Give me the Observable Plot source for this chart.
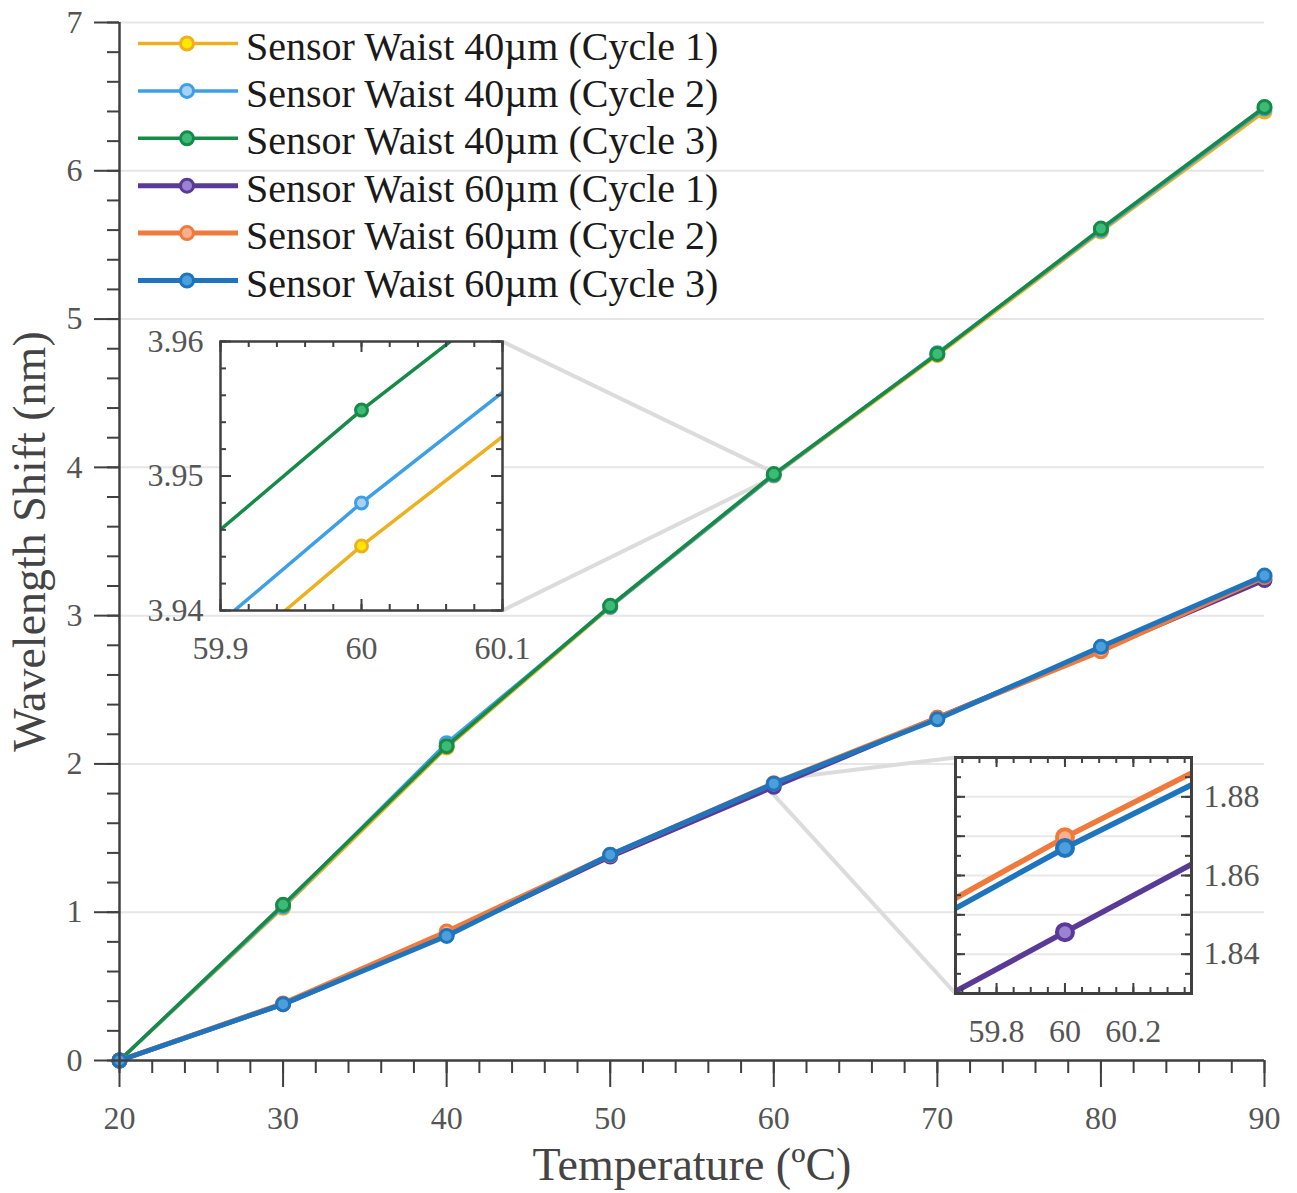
<!DOCTYPE html>
<html>
<head>
<meta charset="utf-8">
<script src="https://cdn.jsdelivr.net/npm/d3@7"></script>
<script src="https://cdn.jsdelivr.net/npm/@observablehq/plot@0.6"></script>
<style>
  body { margin: 0; background: #ffffff; }
  #wrap { position: relative; width: 1297px; height: 1193px; overflow: hidden; }
  #wrap > svg { position: absolute; }
  #wrap svg text { font-family: 'Liberation Serif', 'Times New Roman', serif !important; font-variant-numeric: normal !important; }
</style>
</head>
<body>
<div id="wrap"></div>
<script>
// ---------------- data ----------------
const temperature = [20, 30, 40, 50, 60, 70, 80, 90];
const w40c1 = [0, 1.03, 2.11, 3.057, 3.9448, 4.757, 5.59, 6.40];
const w40c2 = [0, 1.04, 2.14, 3.060, 3.9480, 4.770, 5.60, 6.42];
const w40c3 = [0, 1.05, 2.12, 3.066, 3.9549, 4.765, 5.61, 6.43];
const w60c1 = [0, 0.38, 0.85, 1.375, 1.8456, 2.311, 2.77, 3.24];
const w60c2 = [0, 0.385, 0.87, 1.386, 1.8697, 2.311, 2.76, 3.26];
const w60c3 = [0, 0.38, 0.84, 1.388, 1.8670, 2.301, 2.79, 3.27];
const seriesNames = [
  "Sensor Waist 40µm (Cycle 1)",
  "Sensor Waist 40µm (Cycle 2)",
  "Sensor Waist 40µm (Cycle 3)",
  "Sensor Waist 60µm (Cycle 1)",
  "Sensor Waist 60µm (Cycle 2)",
  "Sensor Waist 60µm (Cycle 3)"
];
const xTicks = [20, 30, 40, 50, 60, 70, 80, 90];
const yTicks = [0, 1, 2, 3, 4, 5, 6, 7];
const xTitle = "Temperature (ºC)";
const yTitle = "Wavelength Shift (nm)";
const inset1X = [59.9, 60.1];
const inset1Y = [3.94, 3.96];
const inset1XTicks = [59.9, 60, 60.1];
const inset1YTicks = [3.94, 3.95, 3.96];
const inset2X = [59.68, 60.37];
const inset2Y = [1.83, 1.89];
const inset2XTicks = [59.8, 60, 60.2];
const inset2YTicks = [1.84, 1.86, 1.88];
const inset2Grid = [1.84, 1.85, 1.86, 1.87, 1.88];

// ---------------- styles ----------------
const strokes = ["#EDB120", "#3D9FE6", "#168A47", "#5A3A97", "#F07A3C", "#1E75BE"];
const fills   = ["#FFE800", "#A9D2F2", "#3CBB76", "#9B82D2", "#F6B08C", "#4C9FDA"];
const lineW   = [3.5, 3.5, 3.5, 5, 5, 5];
const FONT = "'Liberation Serif', 'Times New Roman', serif";
const AX = "#404040";
const TICKC = "#555555";
const fmt = d => String(d);

const allSeries = [w40c1, w40c2, w40c3, w60c1, w60c2, w60c3].map((vals, i) => ({
  name: seriesNames[i],
  stroke: strokes[i],
  fill: fills[i],
  width: lineW[i],
  rows: temperature.map((t, j) => ({x: t, y: vals[j]}))
}));

// ---------------- layout ----------------
const W = 1297, H = 1193, ML = 119, MR = 33, MT = 22, MB = 133;
const box1 = {x: 220, y: 341, w: 282, h: 269};
const box2 = {x: 955, y: 757, w: 236, h: 236};

const xs = Plot.scale({x: {domain: [20, 90], range: [ML, W - MR]}});
const ys = Plot.scale({y: {domain: [0, 7], range: [H - MB, MT]}});
const connectors = [
  {x1: inset1X[1], y1: inset1Y[1], x2: xs.invert(box1.x + box1.w), y2: ys.invert(box1.y)},
  {x1: inset1X[1], y1: inset1Y[0], x2: xs.invert(box1.x + box1.w), y2: ys.invert(box1.y + box1.h)},
  {x1: inset2X[0], y1: inset2Y[1], x2: xs.invert(box2.x), y2: ys.invert(box2.y)},
  {x1: inset2X[0], y1: inset2Y[0], x2: xs.invert(box2.x), y2: ys.invert(box2.y + box2.h)}
];

const seriesMarks = [];
for (const s of allSeries) {
  seriesMarks.push(Plot.line(s.rows, {x: "x", y: "y", stroke: s.stroke, strokeWidth: s.width}));
  seriesMarks.push(Plot.dot(s.rows, {x: "x", y: "y", r: 6.5, fill: s.fill, stroke: s.stroke, strokeWidth: 3}));
}

const main = Plot.plot({
  width: W, height: H,
  marginLeft: ML, marginRight: MR, marginTop: MT, marginBottom: MB,
  x: {domain: [20, 90]},
  y: {domain: [0, 7]},
  style: {fontFamily: FONT, background: "transparent", overflow: "visible"},
  marks: [
    Plot.gridY(yTicks, {stroke: "#e6e6e6", strokeOpacity: 1, strokeWidth: 2}),
    Plot.link(connectors, {x1: "x1", y1: "y1", x2: "x2", y2: "y2", stroke: "#dcdcdc", strokeWidth: 4}),
    ...seriesMarks,
    Plot.axisX(d3.range(20, 91, 2), {tickSize: 13, tickFormat: () => "", label: null, stroke: AX, strokeWidth: 2}),
    Plot.axisX(xTicks, {tickSize: 27, tickPadding: 19, fontSize: 32, fontFamily: FONT, fill: TICKC, stroke: AX, strokeWidth: 2, label: null, tickFormat: fmt}),
    Plot.axisY(d3.range(0, 36).map(i => i * 0.2), {tickSize: 12, tickFormat: () => "", label: null, stroke: AX, strokeWidth: 2}),
    Plot.axisY(yTicks, {tickSize: 25, tickPadding: 12, fontSize: 32, fontFamily: FONT, fill: TICKC, stroke: AX, strokeWidth: 2, label: null, tickFormat: fmt}),
    Plot.ruleX([20], {stroke: AX, strokeWidth: 2.5}),
    Plot.ruleY([0], {stroke: AX, strokeWidth: 2.5}),
    Plot.text([yTitle], {frameAnchor: "left", dx: -89, rotate: -90, text: d => d, textAnchor: "middle", lineAnchor: "middle", fontSize: 46, fontFamily: FONT, fill: "#444"}),
    Plot.text([xTitle], {frameAnchor: "bottom", dy: 105, text: d => d, textAnchor: "middle", lineAnchor: "middle", fontSize: 46, fontFamily: FONT, fill: "#444"})
  ]
});
main.style.left = "0px";
main.style.top = "0px";
document.getElementById("wrap").appendChild(main);

// ---------------- insets ----------------
function makeInset(o) {
  const fw = o.box.w, fh = o.box.h;
  const marks = [Plot.frame({fill: "white", stroke: null})];
  if (o.grid) marks.push(Plot.gridY(o.grid, {stroke: "#e8e8e8", strokeOpacity: 1, strokeWidth: 2}));
  for (const s of o.series) {
    marks.push(Plot.line(s.rows, {x: "x", y: "y", stroke: s.stroke, strokeWidth: o.lineW, clip: true}));
    marks.push(Plot.dot(s.rows, {x: "x", y: "y", r: o.dotR, fill: s.fill, stroke: s.stroke, strokeWidth: o.dotSW, clip: true}));
  }
  const tk = {stroke: AX, strokeWidth: 2};
  marks.push(
    Plot.ruleX(o.xMinor, {...tk, insetTop: fh - o.minorLen}),
    Plot.ruleX(o.xMinor, {...tk, insetBottom: fh - o.minorLen}),
    Plot.ruleX(o.xMajor, {...tk, insetTop: fh - o.majorLen}),
    Plot.ruleX(o.xMajor, {...tk, insetBottom: fh - o.majorLen}),
    Plot.ruleY(o.yMinor, {...tk, insetRight: fw - o.minorLen}),
    Plot.ruleY(o.yMinor, {...tk, insetLeft: fw - o.minorLen}),
    Plot.ruleY(o.yMajor, {...tk, insetRight: fw - o.majorLen}),
    Plot.ruleY(o.yMajor, {...tk, insetLeft: fw - o.majorLen}),
    Plot.frame({stroke: AX, strokeWidth: o.frameW}),
    Plot.axisX(o.xLabels, {tickSize: 0, tickPadding: 26, fontSize: 32, fontFamily: FONT, fill: TICKC, label: null, tickFormat: fmt}),
    Plot.axisY(o.yLabels, {anchor: o.yAnchor, tickSize: 0, tickPadding: o.yPad, fontSize: 32, fontFamily: FONT, fill: TICKC, label: null, tickFormat: d3.format(".2f")})
  );
  const svg = Plot.plot({
    width: o.mL + fw + o.mR, height: o.mT + fh + o.mB,
    marginLeft: o.mL, marginRight: o.mR, marginTop: o.mT, marginBottom: o.mB,
    x: {domain: o.xDomain}, y: {domain: o.yDomain},
    style: {fontFamily: FONT, background: "transparent", overflow: "visible"},
    marks
  });
  svg.style.left = (o.box.x - o.mL) + "px";
  svg.style.top = (o.box.y - o.mT) + "px";
  document.getElementById("wrap").appendChild(svg);
}

makeInset({
  box: box1, xDomain: inset1X, yDomain: inset1Y,
  series: allSeries.slice(0, 3),
  lineW: 3.5, dotR: 6, dotSW: 3,
  xMinor: d3.range(0, 11).map(i => 59.9 + i * 0.02),
  xMajor: inset1XTicks,
  yMinor: d3.range(0, 11).map(i => 3.94 + i * 0.002),
  yMajor: inset1YTicks,
  xLabels: inset1XTicks, yLabels: inset1YTicks,
  minorLen: 6, majorLen: 11, frameW: 2.5,
  yAnchor: "left", yPad: 17,
  mL: 90, mR: 45, mT: 20, mB: 60
});

makeInset({
  box: box2, xDomain: inset2X, yDomain: inset2Y,
  series: allSeries.slice(3, 6),
  grid: inset2Grid,
  lineW: 5.5, dotR: 8, dotSW: 4,
  xMinor: d3.range(0, 14).map(i => 59.7 + i * 0.05),
  xMajor: inset2XTicks,
  yMinor: d3.range(0, 13).map(i => 1.83 + i * 0.005),
  yMajor: inset2Grid,
  xLabels: inset2XTicks, yLabels: inset2YTicks,
  minorLen: 6, majorLen: 10, frameW: 3,
  yAnchor: "right", yPad: 12,
  mL: 30, mR: 95, mT: 20, mB: 60
});

// ---------------- legend ----------------
const leg = d3.create("svg")
  .attr("width", 760).attr("height", 310)
  .style("left", "0px").style("top", "0px")
  .style("font-family", FONT);
allSeries.forEach((s, i) => {
  const y = 43.5 + i * 47.4;
  leg.append("line").attr("x1", 138).attr("x2", 238).attr("y1", y).attr("y2", y)
    .attr("stroke", s.stroke).attr("stroke-width", s.width);
  leg.append("circle").attr("cx", 187).attr("cy", y).attr("r", 6.5)
    .attr("fill", s.fill).attr("stroke", s.stroke).attr("stroke-width", 3);
  leg.append("text").attr("x", 246).attr("y", y + 16).attr("font-size", 40)
    .attr("fill", "#1a1a1a").text(s.name);
});
document.getElementById("wrap").appendChild(leg.node());
</script>
</body>
</html>
